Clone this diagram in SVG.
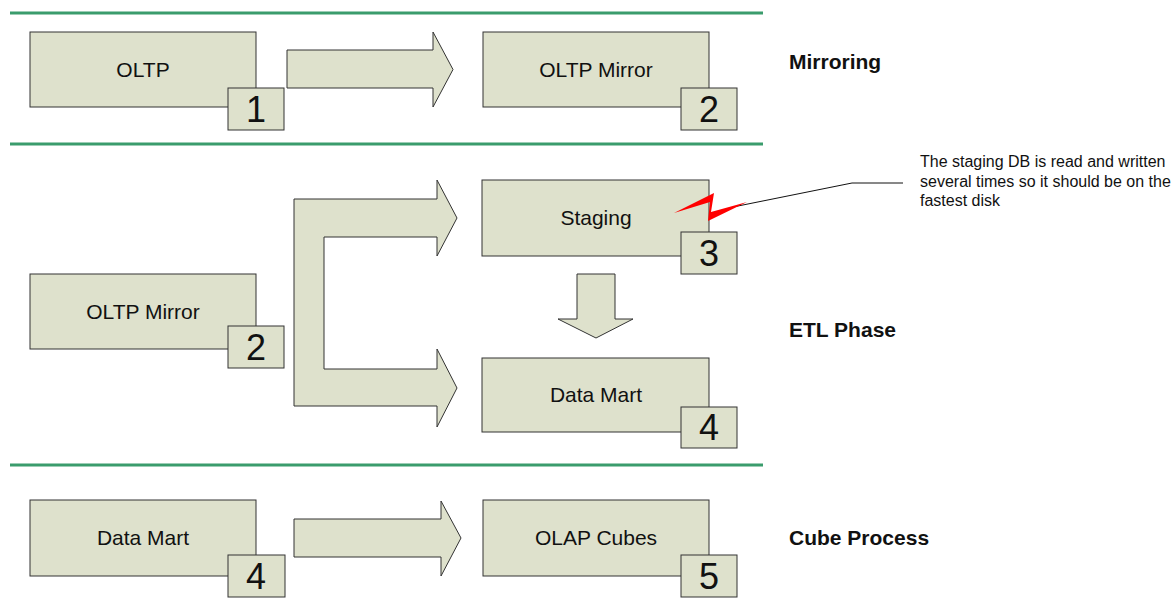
<svg xmlns="http://www.w3.org/2000/svg" width="1174" height="610" viewBox="0 0 1174 610">
<style>
.sep{stroke:#3a9c6c;stroke-width:3;fill:none}
.box{fill:#dee1cc;stroke:#333;stroke-width:1}
.arr{fill:#dee1cc;stroke:#333;stroke-width:1;stroke-linejoin:miter}
.t{font-family:"Liberation Sans",Arial,sans-serif;font-size:21px;fill:#111;text-anchor:middle}
.n{font-family:"Liberation Sans",Arial,sans-serif;font-size:36px;fill:#111;text-anchor:middle}
.lbl{font-family:"Liberation Sans",Arial,sans-serif;font-size:21px;font-weight:bold;fill:#111}
.note{font-family:"Liberation Sans",Arial,sans-serif;font-size:16px;fill:#111}
</style>
<rect width="1174" height="610" fill="#fff"/>
<g id="separators">
<line class="sep" x1="10" y1="13" x2="763" y2="13"/>
<line class="sep" x1="10" y1="144" x2="763" y2="144"/>
<line class="sep" x1="10" y1="465" x2="763" y2="465"/>
</g>
<g id="connectors">
<polygon class="arr" points="287,50 433,50 433,32 453,69.5 433,107 433,88 287,88"/>
<polygon class="arr" points="294,199 437,199 437,180 457,218 437,256 437,237 324,237 324,369 437,369 437,349 457,388 437,427 437,406 294,406"/>
<polygon class="arr" points="577,274 615,274 615,319 633,319 596,338 558,319 577,319"/>
<polygon class="arr" points="294,519 441,519 441,501 461,538 441,576 441,557 294,557"/>
</g>
<g id="oltp">
<rect class="box" x="30" y="32" width="226" height="75"/>
<text class="t" x="143" y="77">OLTP</text>
<rect class="box" x="228" y="88" width="56" height="42"/>
<text class="n" x="256" y="122">1</text>
</g>
<g id="oltp-mirror-1">
<rect class="box" x="483" y="32" width="226" height="75"/>
<text class="t" x="596" y="77">OLTP Mirror</text>
<rect class="box" x="681" y="88" width="56" height="42"/>
<text class="n" x="709" y="122">2</text>
</g>
<g id="oltp-mirror-2">
<rect class="box" x="30" y="274" width="226" height="75"/>
<text class="t" x="143" y="319">OLTP Mirror</text>
<rect class="box" x="228" y="326" width="56" height="42"/>
<text class="n" x="256" y="360">2</text>
</g>
<g id="staging">
<rect class="box" x="482" y="180" width="227" height="76"/>
<text class="t" x="596" y="225">Staging</text>
<rect class="box" x="681" y="232" width="56" height="42"/>
<text class="n" x="709" y="266">3</text>
</g>
<g id="data-mart-1">
<rect class="box" x="482" y="358" width="227" height="74"/>
<text class="t" x="596" y="402">Data Mart</text>
<rect class="box" x="681" y="407" width="56" height="41"/>
<text class="n" x="709" y="440">4</text>
</g>
<g id="data-mart-2">
<rect class="box" x="30" y="500" width="226" height="76"/>
<text class="t" x="143" y="545">Data Mart</text>
<rect class="box" x="228" y="555" width="57" height="42"/>
<text class="n" x="256" y="589">4</text>
</g>
<g id="olap-cubes">
<rect class="box" x="483" y="500" width="226" height="76"/>
<text class="t" x="596" y="545">OLAP Cubes</text>
<rect class="box" x="681" y="555" width="56" height="42"/>
<text class="n" x="709" y="589">5</text>
</g>
<g id="labels">
<text class="lbl" x="789" y="69">Mirroring</text>
<text class="lbl" x="789" y="337">ETL Phase</text>
<text class="lbl" x="789" y="545">Cube Process</text>
</g>
<g id="note">
<polyline points="733,207 852,183 903,183" fill="none" stroke="#111" stroke-width="1"/>
<polygon points="674,213 714,193 711,212 747,202 708,221 710,202" fill="#ff0000"/>
<text class="note" x="920" y="167">The staging DB is read and written</text>
<text class="note" x="920" y="186.5">several times so it should be on the</text>
<text class="note" x="920" y="206">fastest disk</text>
</g>
</svg>
